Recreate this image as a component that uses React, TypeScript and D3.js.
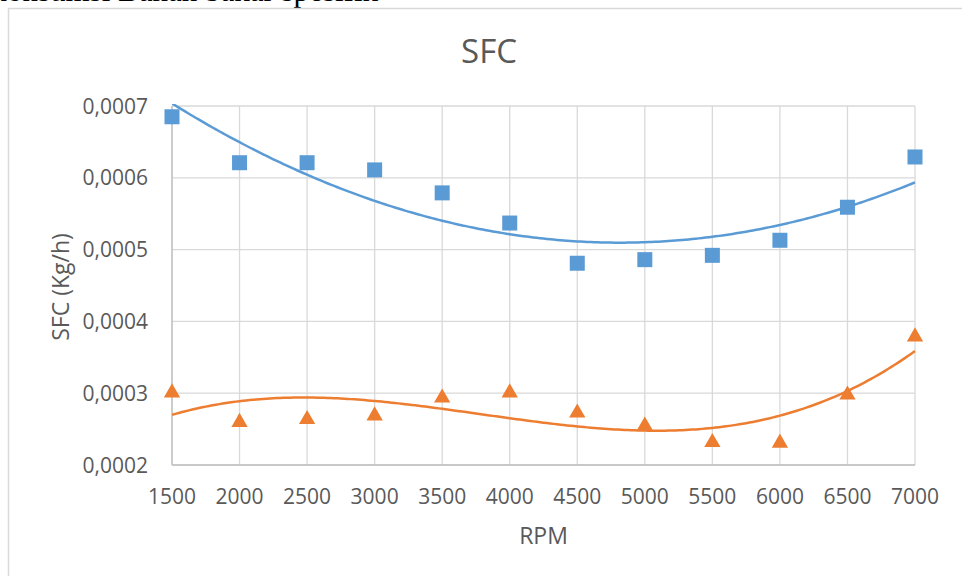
import React from 'react';
import * as d3 from 'd3';

const rpm = [1500, 2000, 2500, 3000, 3500, 4000, 4500, 5000, 5500, 6000, 6500, 7000];
const sfcA = [0.000685, 0.000621, 0.000621, 0.000611, 0.000579, 0.000537, 0.000481, 0.000486, 0.000492, 0.000513, 0.000559, 0.000629];
const sfcB = [0.000302, 0.000261, 0.000265, 0.00027, 0.000295, 0.000302, 0.000274, 0.000256, 0.000233, 0.000232, 0.000299, 0.00038];
const xTicks = [1500, 2000, 2500, 3000, 3500, 4000, 4500, 5000, 5500, 6000, 6500, 7000];
const yTicks = [0.0002, 0.0003, 0.0004, 0.0005, 0.0006, 0.0007];

const W = 962;
const H = 576;
const blue = '#5B9BD5';
const orange = '#ED7D31';
const font = '"Open Sans", sans-serif';

// least squares polynomial fit, like excel's trendline
const polyFit = (xs: number[], ys: number[], order: number) => {
  const n = order + 1;
  const m: number[][] = [];
  for (let r = 0; r < n; r++) {
    const row: number[] = [];
    for (let c = 0; c < n; c++) row.push(d3.sum(xs, x => Math.pow(x, r + c)));
    row.push(d3.sum(xs, (x, i) => ys[i] * Math.pow(x, r)));
    m.push(row);
  }
  for (let i = 0; i < n; i++) {
    let p = i;
    for (let k = i + 1; k < n; k++) if (Math.abs(m[k][i]) > Math.abs(m[p][i])) p = k;
    [m[i], m[p]] = [m[p], m[i]];
    for (let k = i + 1; k < n; k++) {
      const f = m[k][i] / m[i][i];
      for (let c = i; c <= n; c++) m[k][c] -= f * m[i][c];
    }
  }
  const coef = new Array(n).fill(0);
  for (let i = n - 1; i >= 0; i--) {
    let s = m[i][n];
    for (let c = i + 1; c < n; c++) s -= m[i][c] * coef[c];
    coef[i] = s / m[i][i];
  }
  return (x: number) => coef.reduce((acc, a, i) => acc + a * Math.pow(x, i), 0);
};

const App = () => {
  const x = d3.scaleLinear().domain([1500, 7000]).range([172, 915]);
  const y = d3.scaleLinear().domain([0.0002, 0.0007]).range([465, 106]);

  const xs = rpm.map(r => r / 1000);
  const fitA = polyFit(xs, sfcA, 2);
  const fitB = polyFit(xs, sfcB, 3);
  const samples = d3.range(1500, 7001, 25);
  const line = d3.line<number>().x(d => x(d)).y(d => y(d));
  const pathA = line.y(d => y(fitA(d / 1000)))(samples) || '';
  const pathB = line.y(d => y(fitB(d / 1000)))(samples) || '';

  const fmt = (v: number) => v.toFixed(4).replace('.', ',');
  const tri = d3.symbol().type(d3.symbolTriangle).size(115)() || '';

  return (
    <svg width={W} height={H} style={{ position: 'absolute', left: 0, top: 0, background: '#fff' }}>
      <text x={378} y={1} textAnchor="end" fontFamily='"Liberation Serif", "Times New Roman", serif' fontSize={31} fill="#000">
        Konsumsi Bahan bakar spesifik
      </text>
      <rect x={8.5} y={8.5} width={W + 10} height={H + 10} fill="#fff" stroke="#D9D9D9" strokeWidth={1.5} />

      <text x={489} y={63} textAnchor="middle" fontFamily={font} fontSize={33} fill="#595959">SFC</text>

      <defs>
        <clipPath id="plot">
          <rect x={172} y={104} width={745} height={362} />
        </clipPath>
      </defs>

      {yTicks.map(t => (
        <g key={t}>
          <line x1={172} x2={915} y1={y(t)} y2={y(t)} stroke="#D9D9D9" strokeWidth={1.3} />
          <text x={148} y={y(t)} dy="0.36em" textAnchor="end" fontFamily={font} fontSize={21} fill="#595959">{fmt(t)}</text>
        </g>
      ))}
      {xTicks.map(t => (
        <g key={t}>
          <line x1={x(t)} x2={x(t)} y1={106} y2={465} stroke="#D9D9D9" strokeWidth={1.3} />
          <text x={x(t)} y={504} textAnchor="middle" fontFamily={font} fontSize={21} fill="#595959">{t}</text>
        </g>
      ))}
      <line x1={172} x2={172} y1={106} y2={465} stroke="#BFBFBF" strokeWidth={1.3} />
      <line x1={172} x2={915} y1={465} y2={465} stroke="#BFBFBF" strokeWidth={1.3} />

      <g clipPath="url(#plot)">
        <path d={pathA} fill="none" stroke={blue} strokeWidth={2.5} />
        <path d={pathB} fill="none" stroke={orange} strokeWidth={2.5} />
      </g>

      {rpm.map((r, i) => (
        <rect key={'a' + r} x={x(r) - 7.5} y={y(sfcA[i]) - 7.5} width={15} height={15} fill={blue} />
      ))}
      {rpm.map((r, i) => (
        <path key={'b' + r} d={tri} transform={`translate(${x(r)},${y(sfcB[i]) + 1})`} fill={orange} />
      ))}

      <text x={543.5} y={544} textAnchor="middle" fontFamily={font} fontSize={23} fill="#595959">RPM</text>
      <text transform="translate(69,287) rotate(-90)" textAnchor="middle" fontFamily={font} fontSize={23} fill="#595959">
        SFC (Kg/h)
      </text>
    </svg>
  );
};

export default App;
